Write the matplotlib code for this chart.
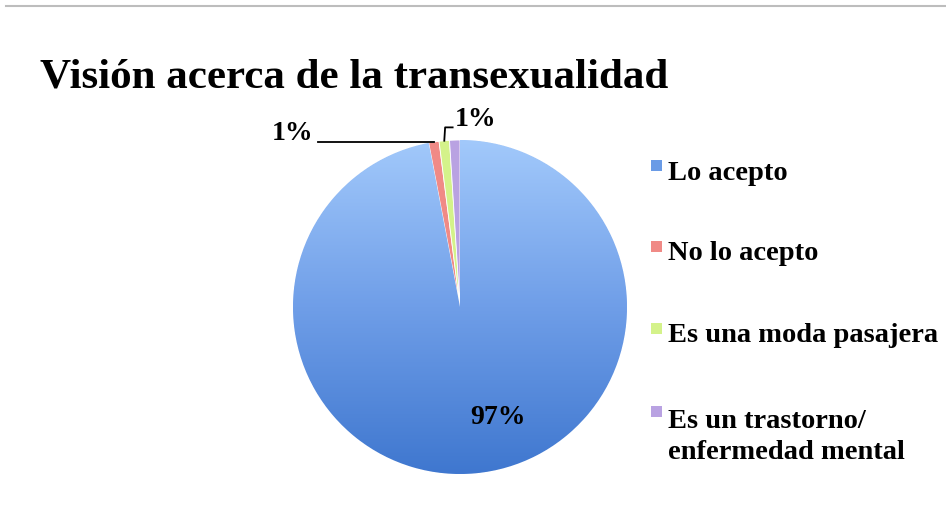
import numpy as np
import matplotlib
matplotlib.use("Agg")
import matplotlib.pyplot as plt
from matplotlib.colors import LinearSegmentedColormap
from matplotlib.patches import Rectangle

# Datos
categorias = ["Lo acepto", "No lo acepto", "Es una moda pasajera",
              "Es un trastorno/\nenfermedad mental"]
porcentajes = [97, 1, 1, 1]
etiquetas = ["97%", "1%", "1%", ""]
colores = ["#6a9be6", "#f08a86", "#d4f28a", "#b9a2e2"]
titulo = "Visión acerca de la transexualidad"

plt.rcParams['font.family'] = ['Liberation Serif', 'DejaVu Serif']

W, H = 946, 522
fig = plt.figure(figsize=(W / 100, H / 100), dpi=100)

# Linea gris superior
fig.add_artist(plt.Line2D([6 / W, 1], [1 - 6 / H, 1 - 6 / H], color="#bdbdbd", lw=1.5))

cx, cy, r = 460, 307, 167
ax = fig.add_axes([(cx - r) / W, (H - cy - r) / H, 2 * r / W, 2 * r / H])
wedges, _ = ax.pie(porcentajes, colors=colores, startangle=90, counterclock=False,
                   radius=1, wedgeprops=dict(edgecolor="white", linewidth=0.6))
ax.set_xlim(-1, 1)
ax.set_ylim(-1, 1)
ax.set_aspect("equal")
ax.axis("off")

# Degradado en la porcion azul
cmap = LinearSegmentedColormap.from_list("azul", ["#3f77cf", "#6f9ee8", "#a2c9fb"])
grad = np.linspace(0, 1, 256).reshape(-1, 1)
img = ax.imshow(grad, cmap=cmap, extent=(-1, 1, -1, 1), origin="lower",
                aspect="auto", zorder=wedges[0].get_zorder() + 0.1)
img.set_clip_path(wedges[0])

# Etiquetas de porcentaje
total = sum(porcentajes)
ang = 90
for i, (w, val, lab) in enumerate(zip(wedges, porcentajes, etiquetas)):
    mid = np.deg2rad(ang - val / total * 180)
    ang -= val / total * 360
    if not lab:
        continue
    px, py = np.cos(mid), np.sin(mid)
    if i == 0:
        ax.text(0.23, -0.66, lab, ha="center", va="center", fontsize=20,
                fontweight="bold")
    elif i == 1:
        ax.plot([px, -0.85], [py, py], color="black", lw=1.3, clip_on=False)
        ax.text(-0.88, py + 0.05, lab, ha="right", va="center", fontsize=20,
                fontweight="bold")
    else:
        ax.plot([px, px + 0.005, px + 0.05], [py, py + 0.08, py + 0.08],
                color="black", lw=1.3, clip_on=False)
        ax.text(px + 0.06, py + 0.13, lab, ha="left", va="center", fontsize=20,
                fontweight="bold")

# Titulo
fig.text(40 / W, 1 - 77 / H, titulo, ha="left", va="center", fontsize=31,
         fontweight="bold")

# Leyenda
filas = [172, 253, 335, 418]
for cat, col, y in zip(categorias, colores, filas):
    fig.add_artist(Rectangle((651 / W, 1 - (y - 1) / H), 11 / W, 11 / H,
                             facecolor=col, edgecolor="none",
                             transform=fig.transFigure))
    if "\n" in cat:
        fig.text(668 / W, 1 - (y - 9) / H, cat, ha="left", va="top",
                 fontsize=20.5, fontweight="bold", linespacing=1.33)
    else:
        fig.text(668 / W, 1 - (y + 1) / H, cat, ha="left", va="center",
                 fontsize=20.5, fontweight="bold")

fig.savefig("out.png", dpi=100)
